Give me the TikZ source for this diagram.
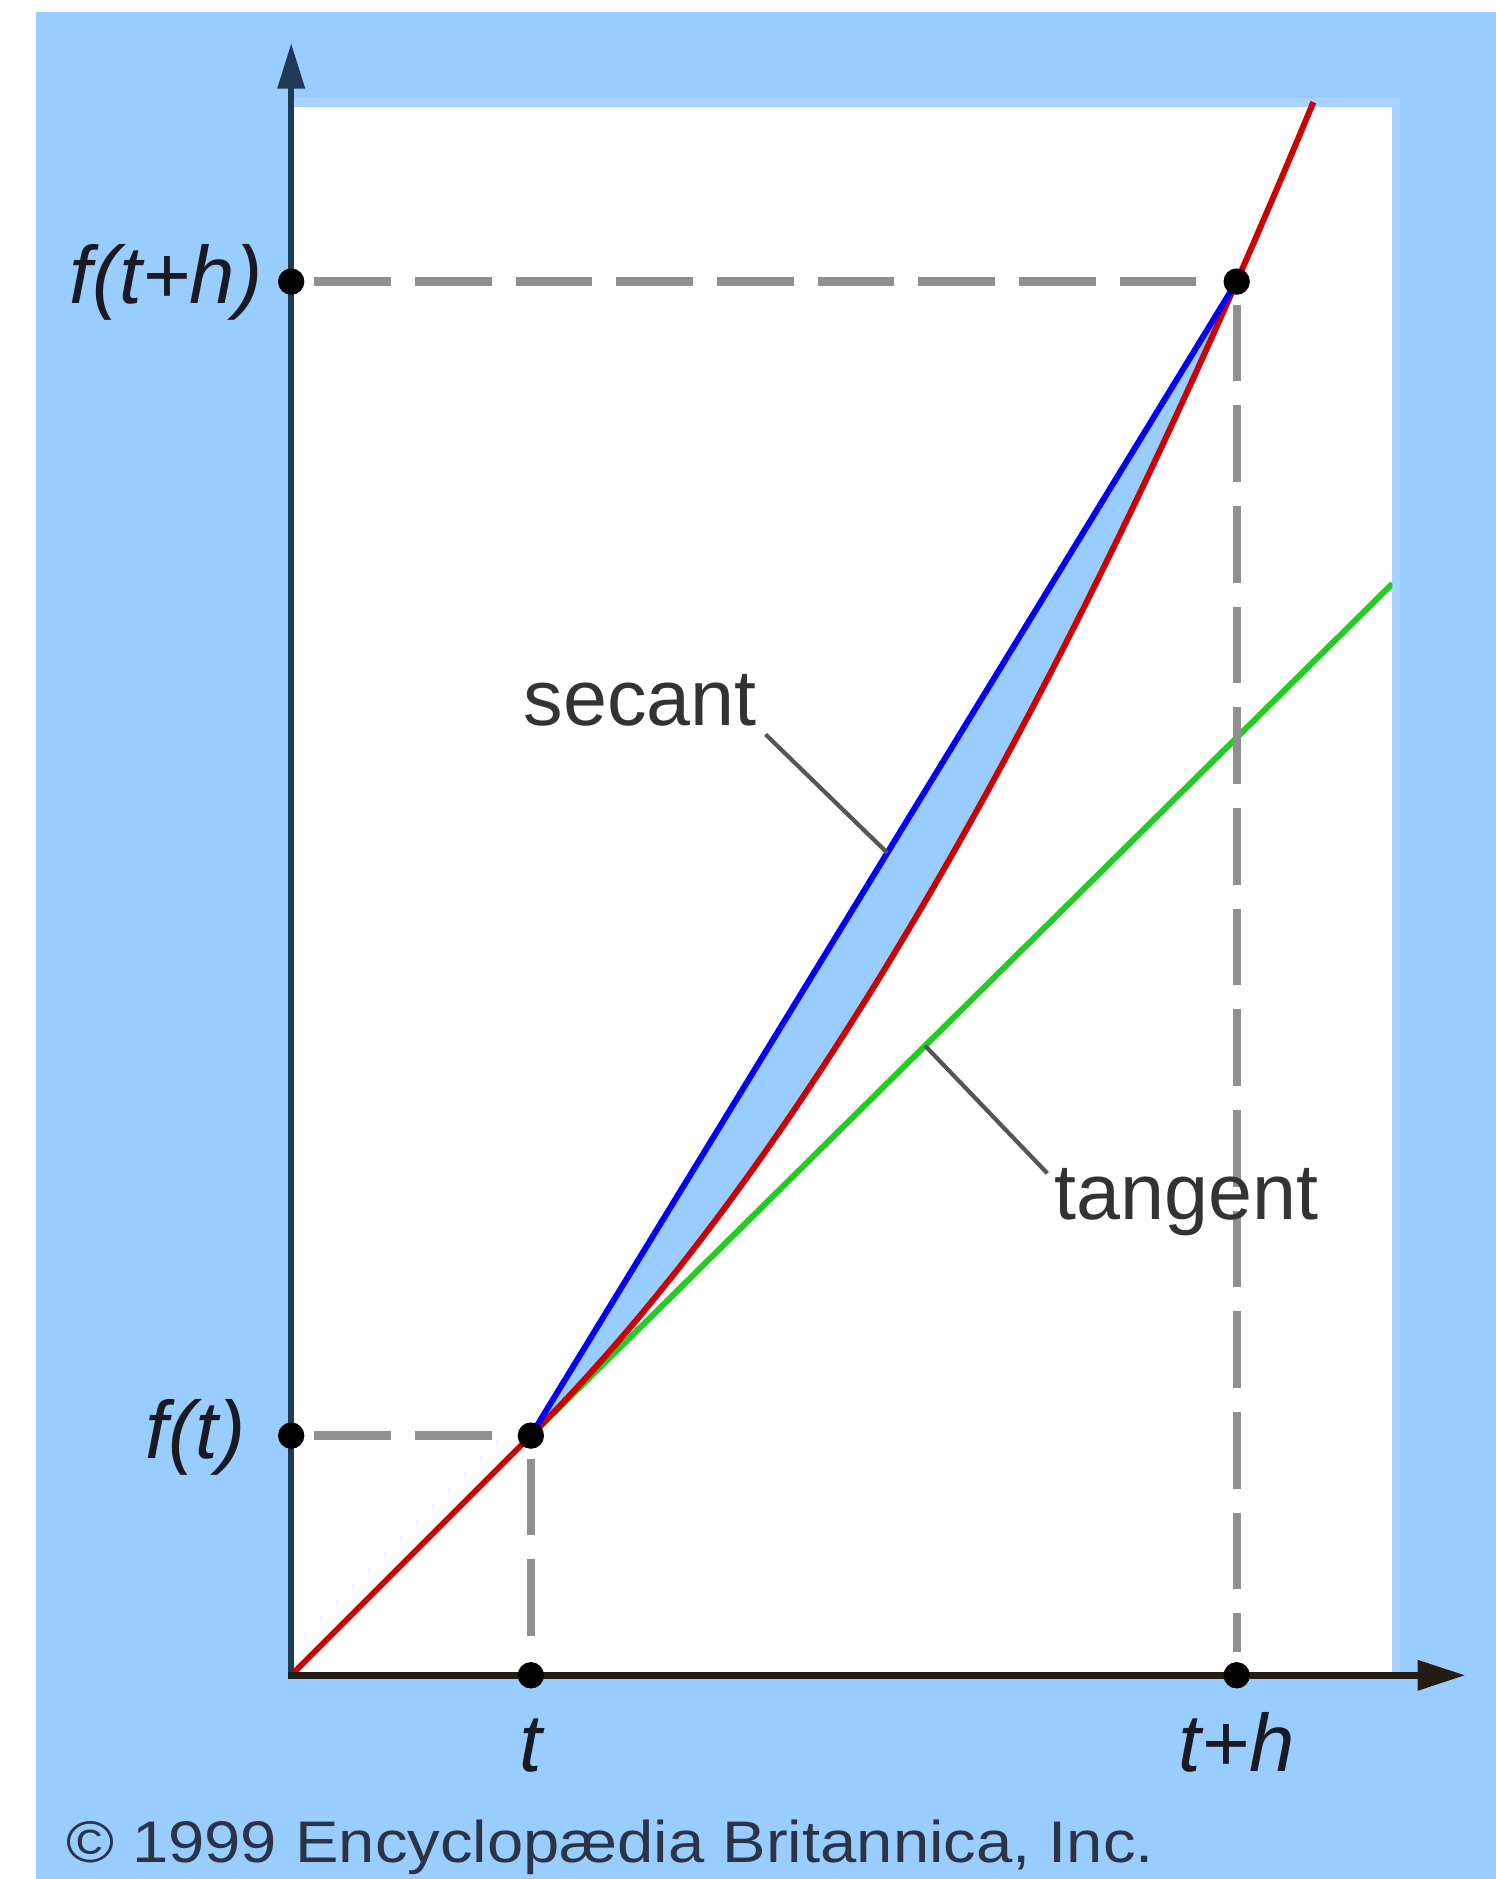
\documentclass[tikz,border=0pt]{standalone}
\usepackage{fontspec}
\setmainfont{Liberation Sans}
\usetikzlibrary{calc,arrows.meta}
\definecolor{bgblue}{HTML}{99CCFF}
\definecolor{stripblue}{HTML}{AAD4FF}
\definecolor{fillblue}{HTML}{99CCFF}
\definecolor{curvered}{HTML}{CC0000}
\definecolor{secantblue}{HTML}{0000FF}
\definecolor{tangentgreen}{HTML}{22CC22}
\definecolor{dashgray}{HTML}{8F8F8F}
\definecolor{axisnavy}{HTML}{1F3A55}
\definecolor{axisbrown}{HTML}{231C14}
\definecolor{leadergray}{HTML}{555555}
\definecolor{wordgray}{HTML}{333333}
\definecolor{lblblack}{HTML}{1A1A22}
\definecolor{copytext}{HTML}{2A3444}
\begin{document}
\begin{tikzpicture}[x=1pt,y=-1pt,
  dot/.style={circle,fill=black,inner sep=0pt,minimum size=22pt},
  guide/.style={draw=dashgray,line width=7pt,dash pattern=on 64pt off 20pt,shorten <=8pt,shorten >=8pt},
  curve/.style={line width=5pt},
  leader/.style={draw=leadergray,line width=3.5pt},
  word/.style={font=\fontsize{66}{70}\selectfont,text=wordgray,inner sep=0pt},
  mathlbl/.style={font=\fontsize{68}{72}\selectfont\itshape,text=lblblack,inner sep=0pt}]
\useasboundingbox (0,0) rectangle (1248,1568);
% backgrounds
\fill[white] (0,0) rectangle (1248,1568);
\fill[bgblue] (30,10) rectangle (1248,1568);
\fill[stripblue] (243,82) rectangle (1168,1398);
\fill[white] (243,89) rectangle (1162,1398);

% key points
\coordinate (O) at (243,1398);
\coordinate (P) at (443,1198);
\coordinate (Q) at (1032,235);
\coordinate (G) at (1162,487);
\coordinate (ytip) at (243,36);
\coordinate (xtip) at (1223,1398);

% curves
\begin{scope}
\clip (243,82) rectangle (1162,1398);
\fill[fillblue] plot[domain=200:789,samples=120] ({243+\x},{1398-\x-(0.03283*max(\x-200,0))^2}) -- cycle;
\draw[tangentgreen,curve] (P) -- (G);
\draw[curvered,curve] plot[domain=0:853,samples=200] ({243+\x},{1398-\x-(0.03283*max(\x-200,0))^2});
\draw[secantblue,curve] (P) -- (Q);
\end{scope}

% axes
\draw[axisnavy,line width=5pt,line cap=rect,-{Triangle[length=38pt,width=22pt]}] (O) -- (ytip);
\draw[axisbrown,line width=6pt,line cap=rect,-{Triangle[length=40pt,width=24pt]}] (O) -- (xtip);

% dots
\node[dot] (dYQ) at (243,235) {};
\node[dot] (dYP) at (243,1198) {};
\node[dot] (dXP) at (443,1398) {};
\node[dot] (dXQ) at (1032,1398) {};
\node[dot] (dP) at (P) {};
\node[dot] (dQ) at (Q) {};

% guides
\draw[guide] (dYQ) -- (dQ);
\draw[guide] (dQ) -- (dXQ);
\draw[guide] (dYP) -- (dP);
\draw[guide] (dP) -- (dXP);

% axis labels
\node[mathlbl,anchor=base east] (lYQ) at (219,253) {f(t+h)};
\node[mathlbl,anchor=base east] (lYP) at (205,1217) {f(t)};
\node[mathlbl,anchor=base] (lXP) at (443,1478) {t};
\node[mathlbl,anchor=base] (lXQ) at (1032,1478) {t+h};

% secant / tangent labels
\node[word,anchor=base west] (sec) at (437,605) {secant};
\node[word,anchor=base west] (tan) at (880,1018) {tangent};
\coordinate (secEnd) at ($(P)!0.505!(Q)$);
\coordinate (tanEnd) at ($(P)!0.4576!(G)$);
\draw[leader] ([shift={(7,7)}]sec.south east) -- (secEnd);
\draw[leader] ([shift={(-6,4)}]tan.north west) -- (tanEnd);

% copyright
\node[anchor=base west,inner sep=0pt,xscale=1.11,text=copytext,font=\fontsize{49}{55}\selectfont] (copy) at (55,1554) {© 1999 Encyclopædia Britannica, Inc.};
\end{tikzpicture}
\end{document}
